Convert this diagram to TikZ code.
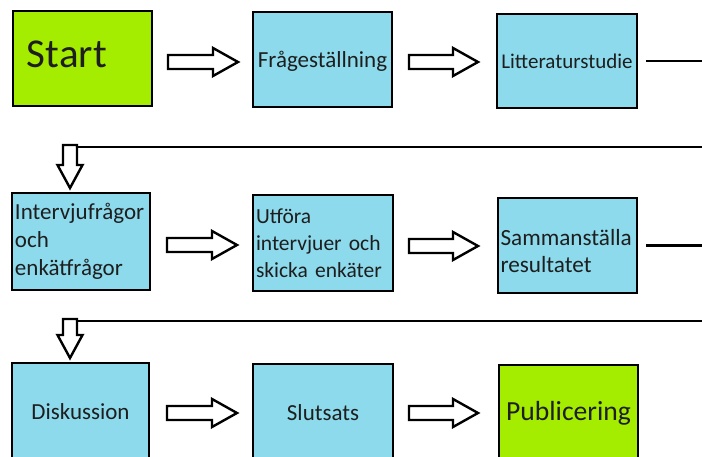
\documentclass[tikz,border=0pt]{standalone}
\usepackage{fontspec}
\setmainfont{Carlito}
\usetikzlibrary{calc}
\definecolor{boxblue}{HTML}{8CDAEC}
\definecolor{boxgreen}{HTML}{A4EC00}
\definecolor{txt}{HTML}{1E1E1E}
% horizontal block arrow: left x, tip x, centre y
\newcommand\hblock[3]{%
  \draw[blk] (#1,#3-7) -- (#2-25,#3-7) -- (#2-25,#3-14) -- (#2,#3)
    -- (#2-25,#3+14) -- (#2-25,#3+7) -- (#1,#3+7) -- cycle;}
% vertical block arrow: centre x, top y, tip y
\newcommand\vblock[3]{%
  \draw[blk] (#1-7,#2) -- (#1+7,#2) -- (#1+7,#3-23) -- (#1+12.5,#3-23)
    -- (#1,#3) -- (#1-12.5,#3-23) -- (#1-7,#3-23) -- cycle;}
\tikzset{
  box/.style={draw=black, line width=2.6pt, anchor=north west, inner sep=0pt,
    outer sep=0pt, text=txt, font=\fontsize{23}{28}\selectfont},
  bluebox/.style={box, fill=boxblue},
  greenbox/.style={box, fill=boxgreen},
  blk/.style={draw=black, fill=white, line width=2.4pt, line join=miter},
  conn/.style={draw=black, line width=2.6pt}
}
\begin{document}
\begin{tikzpicture}[x=1pt, y=-1pt]
\useasboundingbox (0,0) rectangle (702,457);
\clip (0,0) rectangle (702,457);
\fill[white] (0,0) rectangle (702,457);
% row 1
\node[greenbox, minimum width=139, minimum height=95, text width=111, align=left,
  font=\fontsize{41}{48}\selectfont, text depth=9pt] (start) at (13,11) {Start};
\node[bluebox, minimum width=139, minimum height=95, text depth=0pt] (fraga) at (253,12) {Frågeställning};
\node[bluebox, minimum width=140, minimum height=94,
  font=\fontsize{21}{26}\selectfont] (lit) at (497,14) {Litteraturstudie};
% row 2
\node[bluebox, minimum width=138, minimum height=97, text width=132, align=left] (intv) at (12,193)
  {Intervjufrågor\\och\\enkätfrågor};
\node[bluebox, minimum width=140, minimum height=96, text width=134, align=left,
  font=\fontsize{21.5}{27}\selectfont] (utf) at (253,195)
  {Utföra\\intervjuer och\\skicka enkäter};
\node[bluebox, minimum width=139, minimum height=95, text width=134, align=left,
  font=\fontsize{23.2}{27}\selectfont] (samm) at (498,198)
  {\rule{0pt}{27pt}Sammanställa\\resultatet};
% row 3
\node[bluebox, minimum width=137, minimum height=98] (disk) at (12,363) {Diskussion};
\node[bluebox, minimum width=140, minimum height=97] (slut) at (253,364) {Slutsats};
\node[greenbox, minimum width=139, minimum height=96,
  font=\fontsize{27.6}{32}\selectfont] (pub) at (499,365) {Publicering};
% block arrows
\hblock{168}{238}{62}
\hblock{409}{478}{62}
\hblock{167}{237}{245}
\hblock{409}{478}{246}
\hblock{167}{237}{413}
\hblock{409}{478}{413}
\vblock{70}{145}{188}
\vblock{70}{319}{358}
% wrap-around connectors
\draw[conn] ($(lit.east)+(9,0)$) -- (706,61) -- (706,147) -- (78,147);
\draw[conn] ($(samm.east)+(9,0)$) -- (706,245.5) -- (706,321) -- (78,321);
\end{tikzpicture}
\end{document}
